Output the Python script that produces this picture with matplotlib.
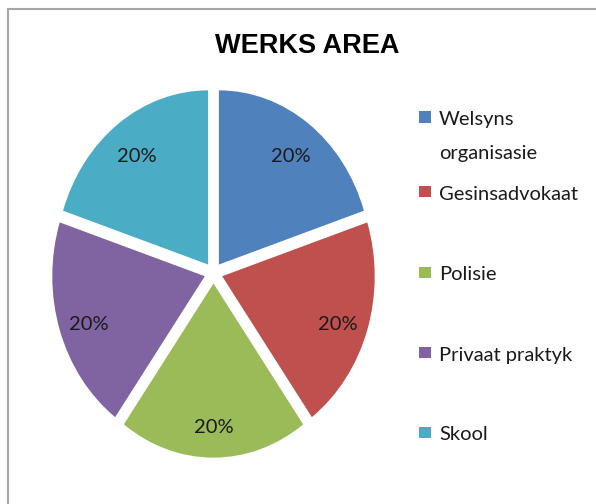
import matplotlib
matplotlib.use("Agg")
import matplotlib.pyplot as plt
from matplotlib.patches import Rectangle
from matplotlib.transforms import offset_copy

categories = ["Welsyns\norganisasie", "Gesinsadvokaat", "Polisie", "Privaat praktyk", "Skool"]
values = [20, 20, 20, 20, 20]
colors = ["#4F81BD", "#C0504D", "#9BBB59", "#8064A2", "#4BACC6"]
title = "WERKS AREA"

W, H = 596, 504
fig = plt.figure(figsize=(W / 100, H / 100), dpi=100)

# pie axes are not square on purpose: the original picture is stretched vertically
ax = fig.add_axes([30.5 / W, 22 / H, 366 / W, 418 / H])
wedges, texts, autotexts = ax.pie(values, colors=colors, startangle=90, counterclock=False,
                                  explode=[0.06] * len(values), autopct='%.0f%%',
                                  pctdistance=0.8, wedgeprops=dict(linewidth=0),
                                  textprops=dict(fontsize=14.5, color='#1a1a1a', family='Lato'))
ax.set_aspect('auto')
ax.set_xlim(-1.2, 1.2)
ax.set_ylim(-1.2, 1.2)
# labels sit a little lower in the original
for t in autotexts:
    t.set_transform(offset_copy(ax.transData, fig=fig, x=0, y=-5, units='dots'))

fig.text(307 / W, 1 - 46 / H, title, ha='center', va='center', fontsize=19.5,
         fontweight='bold', family='Liberation Sans')

# hand made legend, square lined up with first line of each label
leg_y = [117, 192, 272.5, 352.5, 432.5]
for name, col, y in zip(categories, colors, leg_y):
    fig.add_artist(Rectangle((419 / W, 1 - (y + 5.5) / H), 12 / W, 11 / H,
                             transform=fig.transFigure, facecolor=col, edgecolor='none'))
    fig.text(439 / W, 1 - (y - 6) / H, name, ha='left', va='top', fontsize=14.5,
             family='Lato', color='#1a1a1a', linespacing=2.2)

# chart border (right and bottom sides run off the picture)
fig.add_artist(Rectangle((8 / W, -0.1), 1.2, 1.1 - 9 / H, transform=fig.transFigure,
                         fill=False, edgecolor='#a6a6a6', linewidth=1.5, clip_on=False))

fig.savefig('out.png', dpi=100)
